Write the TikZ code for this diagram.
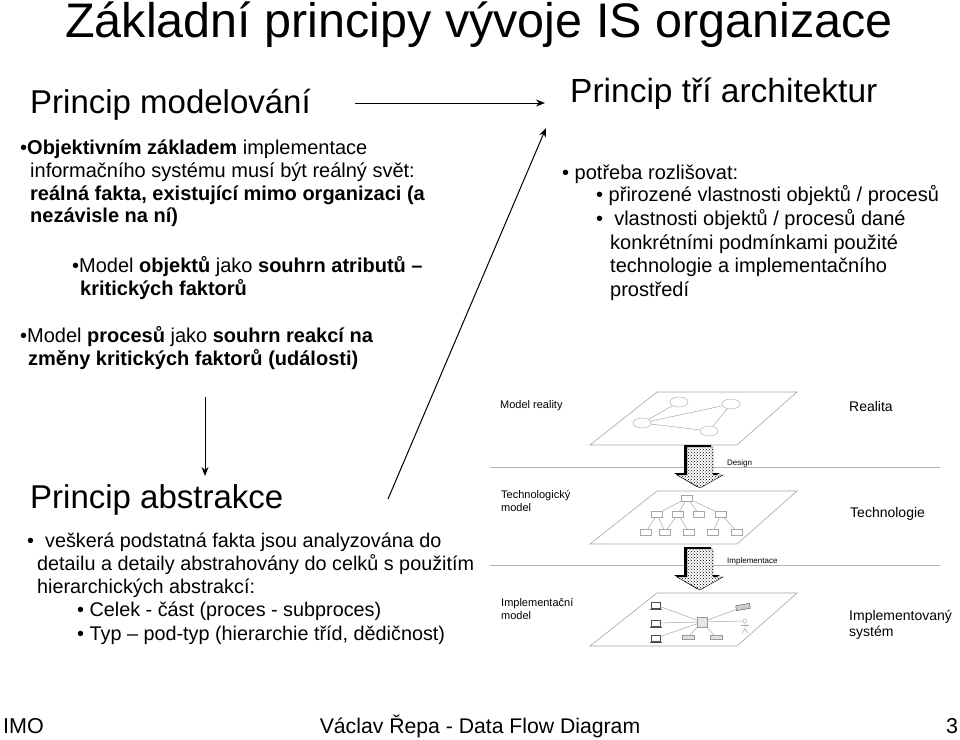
\documentclass[tikz,border=0pt]{standalone}
\usepackage{fontspec}
\setmainfont{Liberation Sans}
\usetikzlibrary{patterns,arrows.meta,shapes.geometric}
\newcommand{\fs}[1]{\fontsize{#1}{#1}\selectfont}
\begin{document}
\begin{tikzpicture}[x=1pt,y=-1pt,
  txt/.style={anchor=base west,inner sep=0pt},
  plane/.style={draw=gray!70,line width=0.6pt,fill=white},
  thin/.style={draw=gray!70,line width=0.5pt},
  bx/.style={draw=gray!70,line width=0.5pt,fill=white,minimum width=11pt,minimum height=6pt,inner sep=0pt},
  arr/.style={-{Stealth[length=9pt,width=7pt]},line width=1pt}]
\useasboundingbox (0,0) rectangle (960,739);
\node[txt] (title) at (65,37) {\fs{48.5}Základní principy vývoje IS organizace};
% left top
\node[txt] (h1) at (30,113) {\fs{33}Princip modelování};
\node[txt] (b1a) at (20,154) {\fs{20}•\textbf{Objektivním základem} implementace};
\node[txt] (b1b) at (30,177) {\fs{20}informačního systému musí být reálný svět:};
\node[txt] (b1c) at (30,200) {\fs{20}\textbf{reálná fakta, existující mimo organizaci (a}};
\node[txt] (b1d) at (30,222) {\fs{20}\textbf{nezávisle na ní)}};
\node[txt] (b2a) at (72,272) {\fs{20}•Model \textbf{objektů} jako \textbf{souhrn atributů –}};
\node[txt] (b2b) at (80,295) {\fs{20}\textbf{kritických faktorů}};
\node[txt] (b3a) at (20,342) {\fs{20}•Model \textbf{procesů} jako \textbf{souhrn reakcí na}};
\node[txt] (b3b) at (28,365) {\fs{20}\textbf{změny kritických faktorů (události)}};
% right top
\node[txt] (h2) at (570,102) {\fs{33.5}Princip tří architektur};
\node[txt] (r1) at (562,179) {\fs{20}• potřeba rozlišovat:};
\node[txt] (r2) at (596,201) {\fs{20}• přirozené vlastnosti objektů / procesů};
\node[txt] (r3) at (596,225) {\fs{20}•\ \ vlastnosti objektů / procesů dané};
\node[txt] (r4) at (610,249) {\fs{20}konkrétními podmínkami použité};
\node[txt] (r5) at (610,272) {\fs{20}technologie a implementačního};
\node[txt] (r6) at (610,296) {\fs{20}prostředí};
% left bottom
\node[txt] (h3) at (30,508) {\fs{33}Princip abstrakce};
\node[txt] (a1) at (27,547) {\fs{19.8}•\ \ veškerá podstatná fakta jsou analyzována do};
\node[txt] (a2) at (37,570) {\fs{19.8}detailu a detaily abstrahovány do celků s použitím};
\node[txt] (a3) at (37,593) {\fs{19.8}hierarchických abstrakcí:};
\node[txt] (a4) at (77,616) {\fs{19.8}• Celek - část (proces - subproces)};
\node[txt] (a5) at (77,640) {\fs{19.8}• Typ – pod-typ (hierarchie tříd, dědičnost)};
% footer
\node[txt] (f1) at (3,733) {\fs{21.5}IMO};
\node[anchor=base,inner sep=0pt] (f2) at (480,733) {\fs{21.2}Václav Řepa - Data Flow Diagram};
\node[txt] (f3) at (946,733) {\fs{21.5}3};
% main arrows
\coordinate (p1) at (355,103); \coordinate (p2) at (545,103);
\coordinate (p3) at (205,397); \coordinate (p4) at (205,476);
\coordinate (p5) at (388,499); \coordinate (p6) at (546,128);
\draw[arr] (p1) -- (p2);
\draw[arr] (p3) -- (p4);
\draw[arr] (p5) -- (p6);
% separators
\draw[gray!60,line width=0.6pt] (490,467) -- (940,467);
\draw[gray!60,line width=0.6pt] (490,565) -- (940,565);
% planes
\foreach \t in {392,491,593}{
  \draw[plane] (590,\t+53) -- (737,\t+53) -- (797,\t) -- (657,\t) -- cycle;}
% plane 1 graph
\tikzset{circ/.style={draw=gray!70,ellipse,minimum width=18pt,minimum height=10pt,inner sep=0pt,fill=white}}
\node[circ] (c1) at (679,402) {};
\node[circ] (c2) at (731,404) {};
\node[circ] (c3) at (642,423) {};
\node[circ] (c4) at (709,431) {};
\draw[thin] (c3) -- (c1); \draw[thin] (c3) -- (c2); \draw[thin] (c3) -- (c4); \draw[thin] (c2) -- (c4);
% plane 2 tree
\node[bx] (t0) at (687,498) {};
\node[bx] (t1) at (657,514) {}; \node[bx] (t2) at (678,514) {};
\node[bx] (t3) at (699,514) {}; \node[bx] (t4) at (721,514) {};
\node[bx] (u1) at (646,532) {}; \node[bx] (u2) at (665,532) {};
\node[bx] (u3) at (689,532) {}; \node[bx] (u4) at (713,532) {}; \node[bx] (u5) at (737,532) {};
\foreach \n in {t1,t2,t3,t4} \draw[thin] (t0) -- (\n);
\draw[thin] (t1)--(u1); \draw[thin] (t1)--(u2); \draw[thin] (t2)--(u2); \draw[thin] (t2)--(u3);
\draw[thin] (t4)--(u4); \draw[thin] (t4)--(u5);
% plane 3 network
\node[draw=gray!80,fill=gray!20,minimum width=10pt,minimum height=10pt,inner sep=0pt] (srv) at (702,622) {};
\foreach \n/\y in {k1/605,k2/623,k3/638}{
  \node[draw=black!70,fill=white,minimum width=9pt,minimum height=6pt,inner sep=0pt] (\n) at (656,\y) {};
  \draw[black!70,line width=0.8pt] (650,\y+4) -- (662,\y+4);}
\node[draw=black!70,fill=gray!40,minimum width=14pt,minimum height=5pt,inner sep=0pt,rotate=10] (prn) at (743,607) {};
\node[draw=gray!70,circle,minimum size=4pt,inner sep=0pt] (man) at (745,621) {};
\draw[thin] (man.south) -- (745,629) -- (742,633); \draw[thin] (745,629) -- (748,633); \draw[thin] (741,625) -- (749,625);
\node[draw=gray!80,fill=gray!25,minimum width=12pt,minimum height=4pt,inner sep=0pt] (d1) at (688,637) {};
\node[draw=gray!80,fill=gray!25,minimum width=12pt,minimum height=4pt,inner sep=0pt] (d2) at (716,637) {};
\foreach \n in {k1,k2,k3,prn,man,d1,d2} \draw[thin] (srv) -- (\n);
% process arrows
\foreach \a in {447,549}{
  \fill[black] (684,\a-2) -- (711,\a-2) -- (711,\a+26) -- (720,\a+26) -- (697,\a+40) -- (674,\a+26) -- (684,\a+26) -- cycle;
  \fill[white] (687,\a) -- (713,\a) -- (713,\a+28) -- (723,\a+28) -- (700,\a+41) -- (677,\a+28) -- (687,\a+28) -- cycle;
  \fill[pattern=crosshatch dots] (687,\a) -- (713,\a) -- (713,\a+28) -- (723,\a+28) -- (700,\a+41) -- (677,\a+28) -- (687,\a+28) -- cycle;
  \draw[black,line width=0.4pt] (687,\a) -- (713,\a) -- (713,\a+28) -- (723,\a+28) -- (700,\a+41) -- (677,\a+28) -- (687,\a+28) -- cycle;
}
% labels
\node[txt] (l1) at (500,408) {\fs{11}Model reality};
\node[txt] (l2) at (849,411) {\fs{14}Realita};
\node[txt] (l3) at (727,465) {\fs{8}Design};
\node[txt] (l4) at (501,498) {\fs{11}Technologický};
\node[txt] (l5) at (501,511) {\fs{11}model};
\node[txt] (l6) at (850,517) {\fs{14}Technologie};
\node[txt] (l7) at (727,563) {\fs{8}Implementace};
\node[txt] (l8) at (501,606) {\fs{11}Implementační};
\node[txt] (l9) at (501,619) {\fs{11}model};
\node[txt] (l10) at (849,620) {\fs{14}Implementovaný};
\node[txt] (l11) at (849,636) {\fs{14}systém};
\end{tikzpicture}
\end{document}
